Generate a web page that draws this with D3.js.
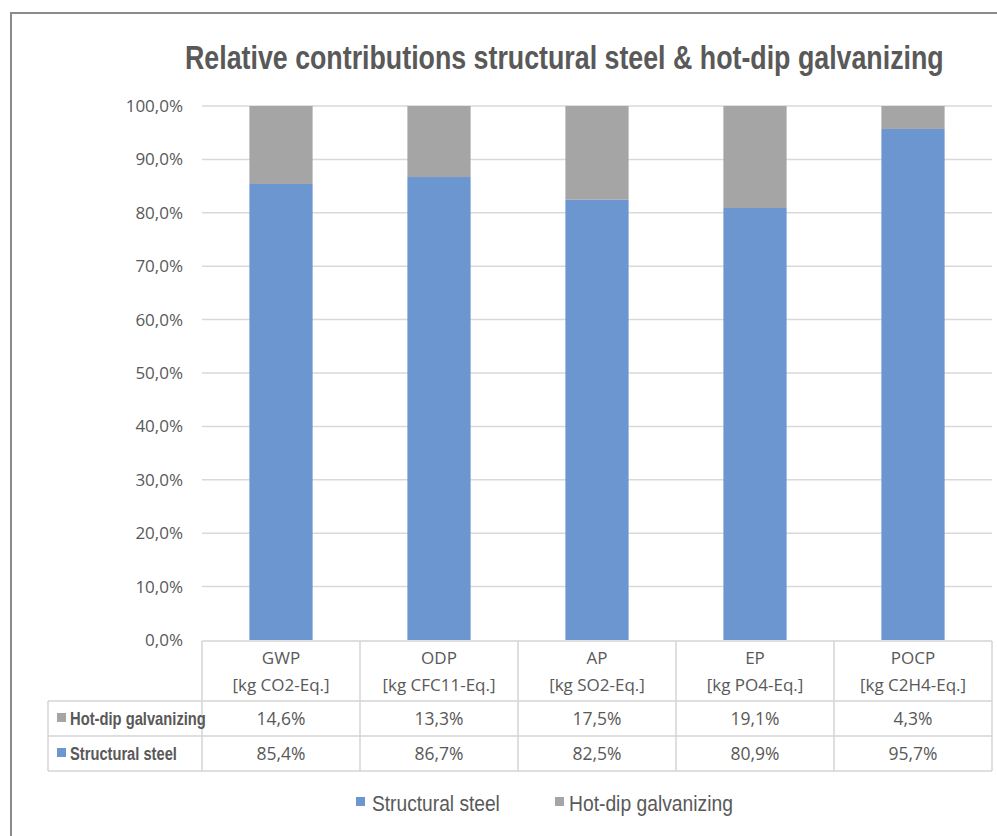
<!DOCTYPE html>
<html><head><meta charset="utf-8">
<script src="https://cdn.jsdelivr.net/npm/d3@7"></script>
<style>html,body{margin:0;padding:0;background:#fff;}svg{display:block;}</style>
</head><body>
<script>
const categories = ["GWP", "ODP", "AP", "EP", "POCP"];
const units = ["[kg CO2-Eq.]", "[kg CFC11-Eq.]", "[kg SO2-Eq.]", "[kg PO4-Eq.]", "[kg C2H4-Eq.]"];
const structuralSteel = [85.4, 86.7, 82.5, 80.9, 95.7];
const hotDipGalvanizing = [14.6, 13.3, 17.5, 19.1, 4.3];
const seriesNames = ["Structural steel", "Hot-dip galvanizing"];
const yTicks = [0, 10, 20, 30, 40, 50, 60, 70, 80, 90, 100];
const title = "Relative contributions structural steel & hot-dip galvanizing";

const W = 997, H = 836;
const colors = {"Structural steel": "#6b96d0", "Hot-dip galvanizing": "#a5a5a5"};
const fmt = v => v.toFixed(1).replace(".", ",") + "%";

const svg = d3.select("body").append("svg").attr("width", W).attr("height", H);
const textCol = "#595959";
const fontMain = "'Liberation Sans',Arial,sans-serif";
const fontCal = "'Open Sans','Liberation Sans',sans-serif";

// condensed text helper: natural text horizontally scaled to target width
function condensed(g, tx, ty, str, size, weight, width) {
  const t = g.append("text").attr("x", 0).attr("y", 0).attr("fill", textCol)
    .attr("font-family", fontMain).attr("font-weight", weight).attr("font-size", size).text(str);
  const nat = t.node().getComputedTextLength();
  t.attr("transform", `translate(${tx},${ty}) scale(${width / nat},1)`);
  return t;
}

// frame
svg.append("line").attr("x1", 11).attr("x2", W).attr("y1", 13).attr("y2", 13).attr("stroke", "#8a8a8a").attr("stroke-width", 2);
svg.append("line").attr("x1", 11).attr("x2", 11).attr("y1", 12).attr("y2", H).attr("stroke", "#8a8a8a").attr("stroke-width", 2);

// title
condensed(svg, 185, 69, title, 34, "bold", 759);

const x = d3.scaleBand().domain(categories).range([202, 992]).paddingInner(0.6).paddingOuter(0.3);
const xCol = d3.scaleBand().domain(categories).range([202, 992]);
const y = d3.scaleLinear().domain([0, 100]).range([640, 106]);

// gridlines
svg.append("g").selectAll("line").data(yTicks.filter(t => t > 0)).join("line")
  .attr("x1", 202).attr("x2", 992).attr("y1", d => y(d)).attr("y2", d => y(d))
  .attr("stroke", "#d9d9d9").attr("stroke-width", 1.5);

// y axis labels
const yAxis = d3.axisLeft(y).tickValues(yTicks).tickFormat(fmt).tickSize(0).tickPadding(0);
const ga = svg.append("g").attr("transform", "translate(183,0)").call(yAxis);
ga.select(".domain").remove();
ga.selectAll("text").attr("fill", textCol).attr("font-family", fontCal).attr("font-size", 17);

// bars
const stackData = categories.map((c, i) => ({cat: c, "Structural steel": structuralSteel[i], "Hot-dip galvanizing": hotDipGalvanizing[i]}));
const stack = d3.stack().keys(seriesNames)(stackData);
svg.append("g").selectAll("g").data(stack).join("g").attr("fill", d => colors[d.key])
  .selectAll("rect").data(d => d).join("rect")
  .attr("x", d => x(d.data.cat)).attr("width", x.bandwidth())
  .attr("y", d => y(d[1])).attr("height", d => y(d[0]) - y(d[1]));

// data table
const tg = svg.append("g");
const lineCol = "#d4d4d4";
const tLeft = 48, tRight = 992, rowTop = 641, rowHead = 701, row1 = 736, row2 = 771;
const hl = (x1, x2, yy) => tg.append("line").attr("x1", x1).attr("x2", x2).attr("y1", yy).attr("y2", yy).attr("stroke", lineCol).attr("stroke-width", 1.5);
const vl = (xx, y1, y2) => tg.append("line").attr("x1", xx).attr("x2", xx).attr("y1", y1).attr("y2", y2).attr("stroke", lineCol).attr("stroke-width", 1.5);
hl(202, tRight, rowTop); hl(tLeft, tRight, rowHead); hl(tLeft, tRight, row1); hl(tLeft, tRight, row2);
vl(tLeft, rowHead, row2);
vl(202, rowTop, row2);
categories.forEach(c => vl(xCol(c) + xCol.bandwidth(), rowTop, row2));

// header texts
categories.forEach((c, i) => {
  const cx = xCol(c) + xCol.bandwidth() / 2;
  tg.append("text").attr("x", cx).attr("y", 664).attr("text-anchor", "middle").attr("fill", textCol)
    .attr("font-family", fontCal).attr("font-size", 17).text(c);
  tg.append("text").attr("x", cx).attr("y", 691).attr("text-anchor", "middle").attr("fill", textCol)
    .attr("font-family", fontCal).attr("font-size", 17).text(units[i]);
});

// rows
const rows = [{name: "Hot-dip galvanizing", vals: hotDipGalvanizing, yy: 725, w: 136},
              {name: "Structural steel", vals: structuralSteel, yy: 760, w: 107}];
rows.forEach(r => {
  tg.append("rect").attr("x", 57).attr("y", r.yy - 12).attr("width", 9).attr("height", 9).attr("fill", colors[r.name]);
  condensed(tg, 70, r.yy, r.name, 18, "bold", r.w);
  r.vals.forEach((v, i) => {
    tg.append("text").attr("x", xCol(categories[i]) + xCol.bandwidth() / 2).attr("y", r.yy - 0.5).attr("text-anchor", "middle")
      .attr("fill", textCol).attr("font-family", fontCal).attr("font-size", 17.5).text(fmt(v));
  });
});

// legend
const legend = [{name: "Structural steel", x: 356, tx: 372, w: 128}, {name: "Hot-dip galvanizing", x: 555, tx: 569, w: 164}];
legend.forEach(l => {
  svg.append("rect").attr("x", l.x).attr("y", 797).attr("width", 9).attr("height", 9).attr("fill", colors[l.name]);
  condensed(svg, l.tx, 811, l.name, 22, "normal", l.w);
});
</script>
</body></html>
